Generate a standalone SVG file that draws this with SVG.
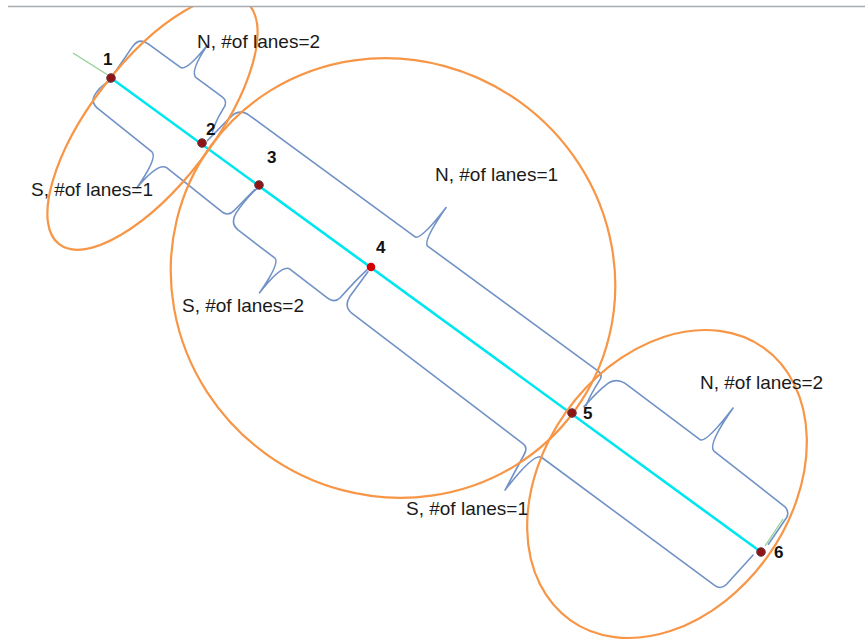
<svg xmlns="http://www.w3.org/2000/svg" width="865" height="643" viewBox="0 0 865 643">
<style>
.brace{fill:none;stroke:#7092c6;stroke-width:1.6;stroke-linejoin:round;stroke-linecap:round}
.zone{fill:none;stroke:#f79646;stroke-width:2.2}
.lbl{font-family:"Liberation Sans",Arial,sans-serif;font-size:19px;fill:#1a1a1a}
.num{font-family:"Liberation Sans",Arial,sans-serif;font-size:17px;font-weight:bold;fill:#111}
.pt{fill:#8e1515;stroke:#6a3a4a;stroke-width:1}
</style>
<rect width="865" height="643" fill="#fff"/>
<g id="connectors">
  <g id="braces" transform="translate(112,78) rotate(36.24)">
    <path id="brace-n-1-2" class="brace" d="M -1,-4 L -2,-38 Q -2,-49 9,-49 L 49,-49 Q 56,-49 57.5,-82 Q 59,-50 68,-50 L 100,-50 Q 108,-50 108,-40 Q 109,-26 113,-16"/>
    <path id="brace-s-1-3" class="brace" d="M 1,3 Q -4,10 -4,20 L -4,22 Q -4,33 8,33 L 76,36 Q 84,37 85,74 Q 87,41 97,40 L 168,43 Q 176,43 177,34 L 181,6"/>
    <path id="brace-n-2-5" class="brace" d="M 114,-6 Q 117,-28 119,-40 Q 121,-50 131,-51 L 338,-51 Q 345,-51 346,-93 Q 347,-52 354,-51 L 565,-51 Q 572,-51 572,-44 Q 573,-28 576,-16"/>
    <path id="brace-s-3-4" class="brace" d="M 182,4 Q 179,22 180,36 Q 181,47 191,48 L 238,49 Q 245,50 246,86 Q 247,50 256,49 L 304,50 Q 313,50 314,42 Q 316,20 319,4"/>
    <path id="brace-s-4-6" class="brace" d="M 321,5 L 321,36 Q 322,47 332,48 L 548,52 Q 554,52 555,60 L 560.6,100 Q 562,52 571,52 L 786,53 Q 794,53 795,45 Q 797,25 799,6"/>
    <path id="brace-n-5-6" class="brace" d="M 575,-14 Q 577,-35 580,-45 Q 583,-56 594,-57 L 688,-56 Q 695,-56 696,-101 Q 697,-56 706,-55 L 796,-52 Q 803,-51 804,-44 L 805,-12"/>
  </g>
  <line id="road" x1="111" y1="78" x2="761" y2="552" stroke="#00e6f0" stroke-width="2.6"/>
  <line id="ext-1" x1="73" y1="53" x2="111" y2="77" stroke="#92d092" stroke-width="1.3"/>
  <line id="ext-6" x1="783" y1="519" x2="765" y2="546" stroke="#92d092" stroke-width="1.3"/>
</g>
<g id="zone-left"><ellipse class="zone" cx="152.5" cy="123" rx="153" ry="61" transform="rotate(-52.4 152.5 123)"/></g>
<g id="zone-middle"><ellipse class="zone" cx="393" cy="278" rx="225" ry="217" transform="rotate(36 393 278)"/></g>
<g id="zone-right"><ellipse class="zone" cx="667" cy="484" rx="167" ry="124" transform="rotate(-54.7 667 484)"/></g>
<rect x="0" y="0" width="865" height="6" fill="#fff"/>
<line x1="8" y1="6.5" x2="865" y2="6.5" stroke="#a7abb2" stroke-width="1.5"/>
<g id="node-1"><circle class="pt" cx="111" cy="78" r="4.3"/><text class="num" x="103" y="65">1</text></g>
<g id="node-2"><circle class="pt" cx="202" cy="143" r="4.3"/><text class="num" x="206" y="135">2</text></g>
<g id="node-3"><circle class="pt" cx="259" cy="185" r="4.3"/><text class="num" x="267" y="163">3</text></g>
<g id="node-4"><circle cx="371" cy="267" r="4.3" fill="#d40000"/><text class="num" x="376" y="253">4</text></g>
<g id="node-5"><circle class="pt" cx="572" cy="413" r="4.3"/><text class="num" x="583" y="419" font-weight="normal">5</text></g>
<g id="node-6"><circle class="pt" cx="761" cy="552" r="4.3"/><text class="num" x="774" y="558">6</text></g>
<g id="labels">
  <text class="lbl" x="197" y="48">N, #of lanes=2</text>
  <text class="lbl" x="31" y="196">S, #of lanes=1</text>
  <text class="lbl" x="435" y="181">N, #of lanes=1</text>
  <text class="lbl" x="182" y="312">S, #of lanes=2</text>
  <text class="lbl" x="406" y="515">S, #of lanes=1</text>
  <text class="lbl" x="700" y="389">N, #of lanes=2</text>
</g>
</svg>
